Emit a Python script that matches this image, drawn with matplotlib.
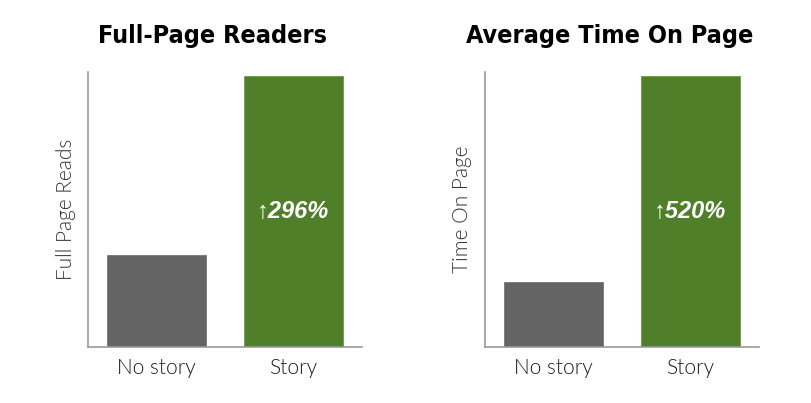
import matplotlib
matplotlib.use("Agg")
import matplotlib.pyplot as plt

# data (story bar normalised to 100)
categories = ["No story", "Story"]
titles = ["Full-Page Readers", "Average Time On Page"]
ylabels = ["Full Page Reads", "Time On Page"]
readers = [34, 100]
time_on_page = [24, 100]
lifts = ["296%", "520%"]

grey = "#646464"
green = "#507f2a"
spine_col = "#9a9a9a"

fig = plt.figure(figsize=(8.12, 4.03), dpi=100)
fig.patch.set_facecolor("white")

panels = [(88, readers), (485, time_on_page)]
for i, (left_px, vals) in enumerate(panels):
    ax = fig.add_axes([left_px / 812, 56 / 403, 274 / 812, 275 / 403])
    ax.bar([0, 1], vals, width=0.72, color=[grey, green],
           edgecolor=["#777777", "#6b9a48"], linewidth=0.6, zorder=2)
    ax.set_xlim(-0.5, 1.5)
    ax.set_ylim(0, 101.5)
    ax.set_xticks([0, 1])
    ax.set_xticklabels(categories, family=["Lato", "DejaVu Sans"],
                       fontweight=300, fontsize=15, color="#1a1a1a")
    ax.set_yticks([])
    ax.tick_params(axis="x", length=0, pad=8)
    for s in ["top", "right"]:
        ax.spines[s].set_visible(False)
    for s in ["left", "bottom"]:
        ax.spines[s].set_color(spine_col)
        ax.spines[s].set_linewidth(1.2)
    ax.set_ylabel(ylabels[i], family=["Lato", "DejaVu Sans"], fontsize=15,
                  fontweight=300, color="#333333", labelpad=9)
    ax.set_title(titles[i], family=["DejaVu Sans"], fontstretch="condensed",
                 fontweight="bold", fontsize=18, x=0.455, pad=21)
    ax.text(1, vals[1] / 2, "\u2191" + lifts[i], ha="center", va="center",
            color="white", fontsize=17, fontweight="bold", fontstyle="italic",
            family=["Liberation Sans", "DejaVu Sans"])

plt.savefig("out.png", dpi=100)
